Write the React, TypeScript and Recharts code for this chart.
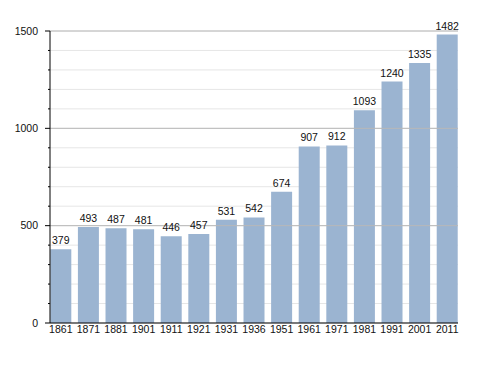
import { BarChart, Bar, XAxis, YAxis, CartesianGrid, ReferenceLine, LabelList } from 'recharts';

const years = ['1861', '1871', '1881', '1901', '1911', '1921', '1931', '1936', '1951', '1961', '1971', '1981', '1991', '2001', '2011'];
const population = [379, 493, 487, 481, 446, 457, 531, 542, 674, 907, 912, 1093, 1240, 1335, 1482];
const majorTicks = [0, 500, 1000, 1500];
const allTicks = [0, 100, 200, 300, 400, 500, 600, 700, 800, 900, 1000, 1100, 1200, 1300, 1400, 1500];

const data = years.map((y, i) => ({ year: y, value: population[i] }));

const AXIS_X = 50;
const FONT = '"Liberation Sans", Arial, sans-serif';

function YTick(props: any) {
  const { y, payload } = props;
  const major = payload.value % 500 === 0;
  return (
    <g>
      <line x1={major ? AXIS_X - 5 : AXIS_X - 2} x2={AXIS_X} y1={y} y2={y} stroke="#000" strokeWidth={1} />
      {major && (
        <text x={AXIS_X - 12} y={y} dy="0.35em" textAnchor="end" fontSize={10.5} fontFamily={FONT} fill="#111">
          {payload.value}
        </text>
      )}
    </g>
  );
}

export default function App() {
  return (
    <div style={{ position: 'absolute', left: 0, top: 0, background: '#fff' }}>
      <BarChart width={488} height={373} data={data} margin={{ top: 31, right: 30, bottom: 20, left: 0 }} barCategoryGap="12%">
        <CartesianGrid vertical={false} horizontalValues={allTicks} stroke="#e6e6e6" />
        {majorTicks.slice(1).map((t) => (
          <ReferenceLine key={t} y={t} stroke="#b8b8b8" />
        ))}
        <XAxis
          dataKey="year"
          height={30}
          tickLine={false}
          tickSize={3}
          tickMargin={0}
          padding={{ left: -3, right: -3 }}
          axisLine={{ stroke: '#000' }}
          tick={{ fontSize: 10.5, fontFamily: FONT, fill: '#111' }}
          interval={0}
        />
        <YAxis
          width={50}
          domain={[0, 1500]}
          ticks={allTicks}
          interval={0}
          tickLine={false}
          axisLine={{ stroke: '#000' }}
          tick={<YTick />}
        />
        <Bar dataKey="value" fill="#9bb4d1" isAnimationActive={false}>
          <LabelList dataKey="value" position="top" fontSize={10.5} fontFamily={FONT} fill="#111" />
        </Bar>
      </BarChart>
    </div>
  );
}
